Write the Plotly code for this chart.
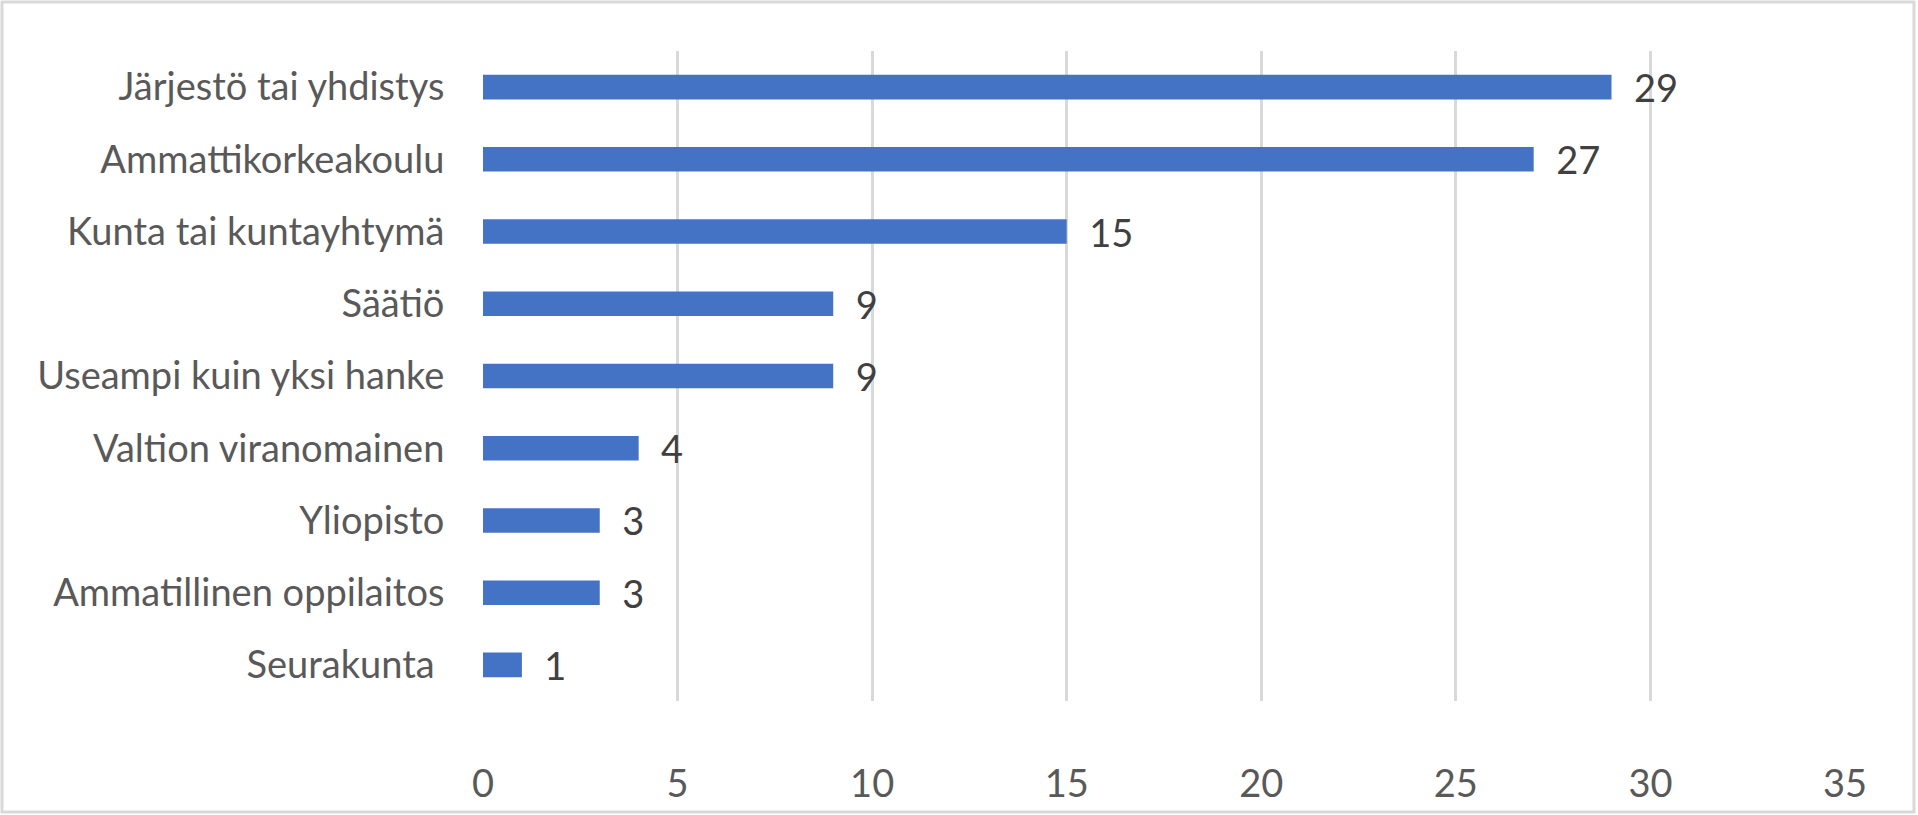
import plotly.graph_objects as go

# Tahot, ylhäältä alas
categories = [
    "Järjestö tai yhdistys",
    "Ammattikorkeakoulu",
    "Kunta tai kuntayhtymä",
    "Säätiö",
    "Useampi kuin yksi hanke",
    "Valtion viranomainen",
    "Yliopisto",
    "Ammatillinen oppilaitos",
    "Seurakunta\u00a0",
]
counts = [29, 27, 15, 9, 9, 4, 3, 3, 1]
x_ticks = [0, 5, 10, 15, 20, 25, 30, 35]

W, H = 1918, 815
left, right, top, bottom = 483, 73, 51, 114
plot_w = W - left - right
plot_h = H - top - bottom

fig = go.Figure()
fig.add_trace(go.Bar(
    x=counts,
    y=categories,
    orientation="h",
    marker=dict(color="#4472C4", line=dict(width=0)),
    text=counts,
    texttemplate="\u00a0\u00a0%{x}",
    textposition="outside",
    constraintext="none",
    textfont=dict(family="Lato", size=38, color="#404040"),
    cliponaxis=False,
    hoverinfo="skip",
))

# harmaa kehys koko kuvan ympäri (paper-koordinaateissa)
fig.add_shape(
    type="rect", xref="paper", yref="paper",
    x0=(2 - left) / plot_w, x1=(W - 4 - left) / plot_w,
    y0=(top + plot_h - (H - 3)) / plot_h,
    y1=(top + plot_h - 2) / plot_h,
    line=dict(color="#D9D9D9", width=3),
    fillcolor="rgba(0,0,0,0)",
    layer="below",
)

fig.update_layout(
    width=W, height=H,
    margin=dict(l=left, r=right, t=top, b=bottom, autoexpand=False),
    paper_bgcolor="white",
    plot_bgcolor="white",
    bargap=0.66,
    showlegend=False,
    font=dict(family="Lato", size=38, color="#595959"),
    xaxis=dict(
        range=[0, 35],
        tickvals=x_ticks,
        showgrid=True, gridcolor="#D9D9D9", gridwidth=2.5,
        zeroline=False, showline=False,
        ticks="outside", ticklen=49, tickcolor="rgba(0,0,0,0)",
        tickfont=dict(family="Lato", size=38, color="#595959"),
        fixedrange=True,
    ),
    yaxis=dict(
        autorange="reversed",
        showgrid=False, zeroline=False, showline=False,
        ticks="outside", ticklen=30, tickcolor="rgba(0,0,0,0)",
        tickfont=dict(family="Lato", size=38, color="#595959"),
        fixedrange=True,
    ),
)

fig.write_html(
    "out.html",
    config={"displayModeBar": False},
    post_script="document.body.style.margin='0';document.body.style.overflow='hidden';",
)
